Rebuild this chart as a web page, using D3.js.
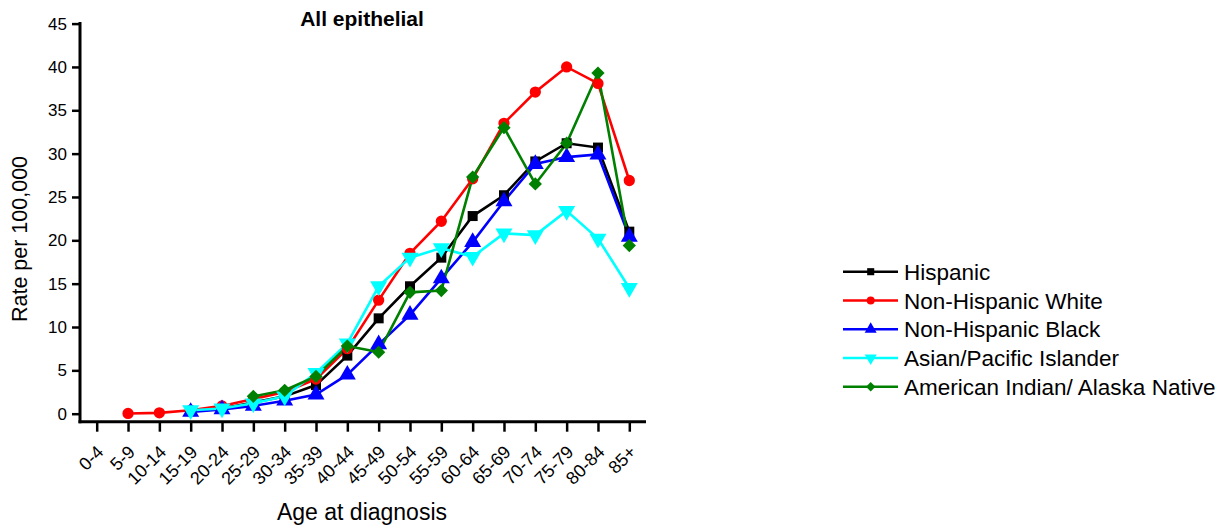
<!DOCTYPE html>
<html>
<head>
<meta charset="utf-8">
<script src="https://cdn.jsdelivr.net/npm/d3@7"></script>
<style>
  html, body { margin: 0; padding: 0; background: #fff; }
  svg { display: block; font-family: "Liberation Sans", Arial, Helvetica, sans-serif; }
</style>
</head>
<body>
<svg id="chart" width="1231" height="525"></svg>
<script>
const categories = ["0-4","5-9","10-14","15-19","20-24","25-29","30-34","35-39","40-44","45-49","50-54","55-59","60-64","65-69","70-74","75-79","80-84","85+"];
const yTicks = [0,5,10,15,20,25,30,35,40,45];
const seriesNames = ["Hispanic","Non-Hispanic White","Non-Hispanic Black","Asian/Pacific Islander","American Indian/ Alaska Native"];
const hispanic = [null,null,null,0.3,0.6,1.3,2.0,3.3,6.7,11.0,14.7,18.0,22.8,25.2,29.1,31.2,30.7,21.0];
const nhWhite  = [null,0.03,0.1,0.4,0.9,1.7,2.5,4.0,7.5,13.1,18.5,22.2,27.1,33.5,37.1,40.0,38.1,26.9];
const nhBlack  = [null,null,null,0.2,0.5,0.9,1.5,2.2,4.5,8.0,11.4,15.6,19.8,24.5,28.8,29.6,29.9,20.4];
const asianPI  = [null,null,null,0.4,0.6,1.2,2.0,4.7,8.1,14.7,18.0,19.1,18.1,20.8,20.6,23.4,20.2,14.5];
const aian     = [null,null,null,null,null,2.0,2.7,4.3,7.8,7.1,14.0,14.2,27.3,33.0,26.5,31.2,39.3,19.4];
const seriesColors = ["#000000","#ff0000","#0000ff","#00ffff","#008000"];
const seriesValues = [hispanic, nhWhite, nhBlack, asianPI, aian];

const svg = d3.select("#chart");
const font = "'Liberation Sans', Arial, Helvetica, sans-serif";

const x = d3.scalePoint().domain(categories).range([96.7, 629.3]);
const y = d3.scaleLinear().domain([0,45]).range([413.7, 23.6]);
const axisLeftX = 80, axisBottomY = 421.7, axisRightX = 646;

// symbols: square, circle, triangle up, triangle down, diamond (rotated square)
const symTypes = [d3.symbolSquare, d3.symbolCircle, d3.symbolTriangle, d3.symbolTriangle, d3.symbolSquare];
const symSizes = [100, 100, 125, 125, 88];
const symRot = [0,0,0,180,45];

// axes
const yAxis = d3.axisLeft(y).tickValues(yTicks).tickSize(8).tickPadding(5).tickSizeOuter(0);
const gy = svg.append("g").attr("transform", `translate(${axisLeftX},0)`).call(yAxis);
gy.select(".domain").remove();
gy.selectAll(".tick line").attr("stroke","#000").attr("stroke-width",2.5);
gy.selectAll(".tick text").attr("font-size","17px").attr("font-family",font).attr("fill","#000");

const xAxis = d3.axisBottom(x).tickSize(10).tickSizeOuter(0);
const gx = svg.append("g").attr("transform", `translate(0,${axisBottomY})`).call(xAxis);
gx.select(".domain").remove();
gx.selectAll(".tick line").attr("stroke","#000").attr("stroke-width",2.5);
gx.selectAll(".tick text")
  .attr("font-size","18px").attr("font-family",font).attr("fill","#000")
  .attr("text-anchor","end")
  .attr("dy","0.35em")
  .attr("y",0)
  .attr("transform","translate(3,27) rotate(-45)");

// axis lines
svg.append("line").attr("x1",axisLeftX).attr("x2",axisLeftX).attr("y1",y(45)-1.5).attr("y2",axisBottomY+1.5)
  .attr("stroke","#000").attr("stroke-width",3);
svg.append("line").attr("x1",axisLeftX-1.5).attr("x2",axisRightX).attr("y1",axisBottomY).attr("y2",axisBottomY)
  .attr("stroke","#000").attr("stroke-width",3);

// series
seriesValues.forEach((vals, si) => {
  const pts = categories.map((c,i)=>({c, v: vals[i]})).filter(d => d.v !== null);
  const line = d3.line().x(d => x(d.c)).y(d => y(d.v));
  svg.append("path").datum(pts).attr("d", line).attr("fill","none")
    .attr("stroke", seriesColors[si]).attr("stroke-width", 2.6);
});
seriesValues.forEach((vals, si) => {
  const pts = categories.map((c,i)=>({c, v: vals[i]})).filter(d => d.v !== null);
  const sym = d3.symbol().type(symTypes[si]).size(symSizes[si]);
  svg.append("g").selectAll("path").data(pts).join("path")
    .attr("d", sym)
    .attr("transform", d => `translate(${x(d.c)},${y(d.v)}) rotate(${symRot[si]})`)
    .attr("fill", seriesColors[si]);
});

// title and axis labels
svg.append("text").attr("x",362).attr("y",26).attr("text-anchor","middle")
  .attr("font-size","21px").attr("font-weight","bold").attr("font-family",font).text("All epithelial");
svg.append("text").attr("transform","translate(27,239) rotate(-90)").attr("text-anchor","middle")
  .attr("font-size","21.5px").attr("font-family",font).text("Rate per 100,000");
svg.append("text").attr("x",362).attr("y",520).attr("text-anchor","middle")
  .attr("font-size","23px").attr("font-family",font).text("Age at diagnosis");

// legend
const legendY0 = 271.7, legendStep = 28.75;
const lg = svg.append("g");
seriesNames.forEach((name, si) => {
  const cy = legendY0 + si*legendStep;
  lg.append("line").attr("x1",843).attr("x2",898).attr("y1",cy).attr("y2",cy)
    .attr("stroke",seriesColors[si]).attr("stroke-width",2.6);
  lg.append("path").attr("d", d3.symbol().type(symTypes[si]).size(symSizes[si]*0.5)())
    .attr("transform",`translate(870.7,${cy}) rotate(${symRot[si]})`).attr("fill",seriesColors[si]);
  lg.append("text").attr("x",904).attr("y",cy).attr("dy","0.36em")
    .attr("font-size","22.5px").attr("font-family",font).attr("fill","#000").text(name);
});
</script>
</body>
</html>
